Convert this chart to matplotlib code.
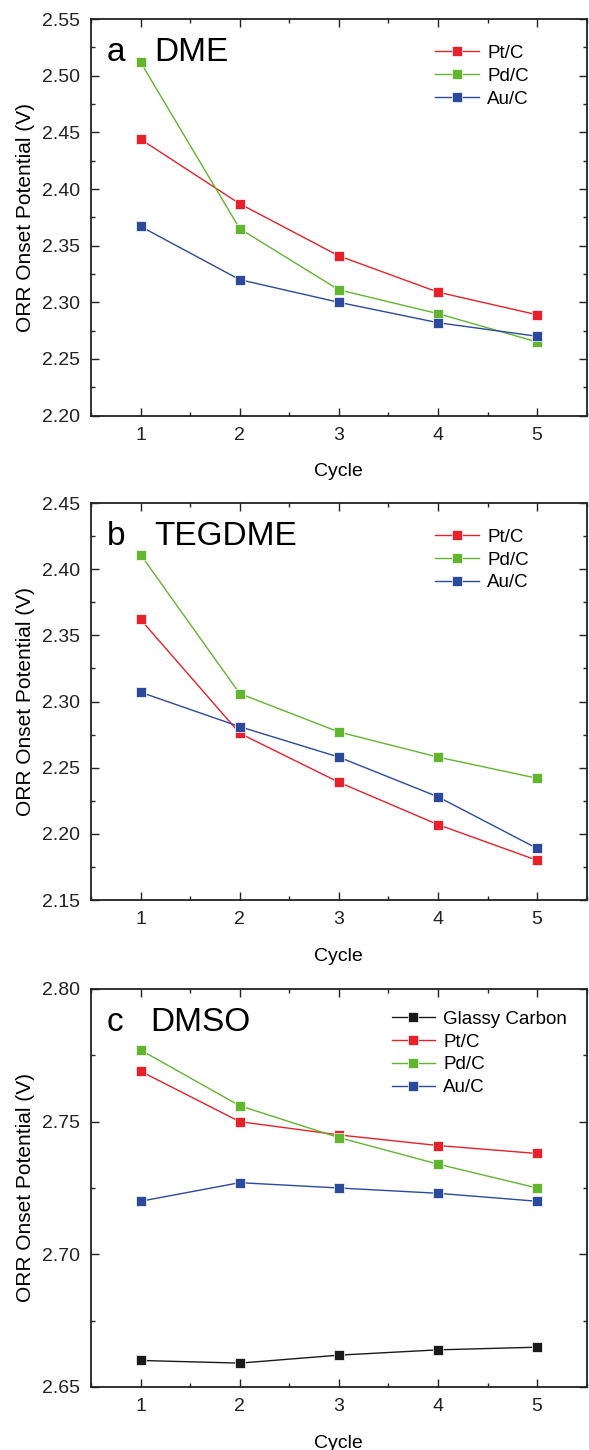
#! /usr/bin/env python3
# ORR onset potential vs cycle for three electrolytes, stacked panels
import matplotlib
matplotlib.use("Agg")
import matplotlib.pyplot as plt
from matplotlib.ticker import MultipleLocator

plt.rcParams['font.family'] = ['Liberation Sans', 'DejaVu Sans']

cycles = [1, 2, 3, 4, 5]

# panel a, DME
dme_pt = [2.444, 2.387, 2.341, 2.309, 2.289]
dme_pd = [2.512, 2.365, 2.311, 2.290, 2.265]
dme_au = [2.367, 2.320, 2.300, 2.282, 2.270]

# panel b, TEGDME
teg_pt = [2.362, 2.276, 2.239, 2.207, 2.180]
teg_pd = [2.411, 2.306, 2.277, 2.258, 2.242]
teg_au = [2.307, 2.281, 2.258, 2.228, 2.189]

# panel c, DMSO
dmso_gc = [2.660, 2.659, 2.662, 2.664, 2.665]
dmso_pt = [2.769, 2.750, 2.745, 2.741, 2.738]
dmso_pd = [2.777, 2.756, 2.744, 2.734, 2.725]
dmso_au = [2.720, 2.727, 2.725, 2.723, 2.720]

colors = {"Glassy Carbon": "#1a1a1a", "Pt/C": "#e8202a",
          "Pd/C": "#62b52f", "Au/C": "#2b4a9c"}

panels = [
    ("a", "DME", [("Pt/C", dme_pt), ("Pd/C", dme_pd), ("Au/C", dme_au)],
     (2.20, 2.55), 0.695, 0.935),
    ("b", "TEGDME", [("Pt/C", teg_pt), ("Pd/C", teg_pd), ("Au/C", teg_au)],
     (2.15, 2.45), 0.695, 0.935),
    ("c", "DMSO", [("Glassy Carbon", dmso_gc), ("Pt/C", dmso_pt),
                   ("Pd/C", dmso_pd), ("Au/C", dmso_au)],
     (2.65, 2.80), 0.607, 0.945),
]

fig = plt.figure(figsize=(5.89, 14.5), dpi=100)
boxes = [(0.1545, 0.7134, 0.8415, 0.2734),
         (0.1545, 0.3793, 0.8415, 0.2738),
         (0.1545, 0.04345, 0.8415, 0.2745)]

for box, (letter, name, series, ylim, legx, legy) in zip(boxes, panels):
    ax = fig.add_axes(box)
    for label, vals in series:
        ax.plot(cycles, vals, color=colors[label], lw=1.0, marker="s",
                markersize=7, markerfacecolor=colors[label],
                markeredgecolor="white", markeredgewidth=0.5, label=label)
    ax.set_xlim(0.5, 5.5)
    ax.set_ylim(*ylim)
    ax.xaxis.set_major_locator(MultipleLocator(1))
    ax.xaxis.set_minor_locator(MultipleLocator(0.5))
    ax.yaxis.set_major_locator(MultipleLocator(0.05))
    ax.yaxis.set_minor_locator(MultipleLocator(0.025))
    ax.yaxis.set_major_formatter(plt.FormatStrFormatter("%.2f"))
    ax.tick_params(which="both", direction="in", top=True, right=True,
                   width=1.0, labelsize=14, colors="#222222")
    ax.tick_params(which="major", length=5.5)
    ax.tick_params(which="minor", length=3)
    ax.tick_params(axis="y", pad=8)
    ax.tick_params(axis="x", pad=8)
    for sp in ax.spines.values():
        sp.set_linewidth(1.3)
        sp.set_color("#222222")
    ax.set_xlabel("Cycle", fontsize=14, labelpad=14)
    ax.set_ylabel("ORR Onset Potential (V)", fontsize=15, labelpad=5)
    ax.text(0.032, 0.955, letter, transform=ax.transAxes, fontsize=24,
            va="top", ha="left")
    ax.text(0.128 if letter != "c" else 0.12, 0.955, name,
            transform=ax.transAxes, fontsize=24, va="top", ha="left")
    ax.legend(loc="upper left", bbox_to_anchor=(legx, legy), frameon=False,
              fontsize=13.5, numpoints=1, handlelength=2.3, handletextpad=0.45,
              borderpad=0, borderaxespad=0, labelspacing=0.3)

fig.savefig("out.png", dpi=100)
plt.close('all')
